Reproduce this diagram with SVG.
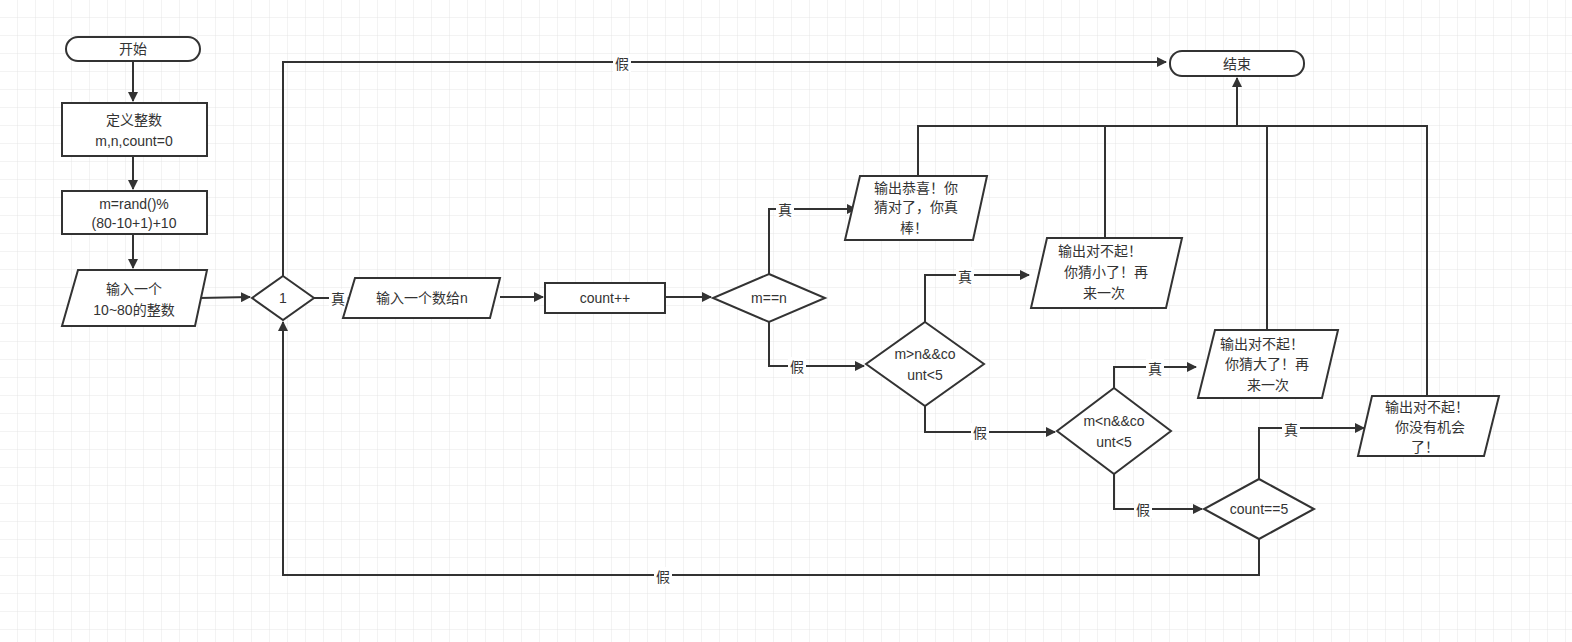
<svg xmlns="http://www.w3.org/2000/svg" width="1572" height="642" viewBox="0 0 1572 642">
<defs>
<pattern id="g" width="18" height="18" patternUnits="userSpaceOnUse"><path d="M18 0V18H0" fill="none" stroke="#e6e6e6" stroke-width="1"/></pattern>
<marker id="a" viewBox="0 0 10 10" refX="9" refY="5" markerWidth="5" markerHeight="5" orient="auto"><path d="M0 0L10 5L0 10z" fill="#333"/></marker>
<style>
.s{fill:#fff;stroke:#333;stroke-width:2}
.c{fill:none;stroke:#333;stroke-width:2;marker-end:url(#a)}
.l{fill:none;stroke:#333;stroke-width:2}
text{font-family:"Liberation Sans","Noto Sans CJK SC",sans-serif;font-size:14px;fill:#333;text-anchor:middle}
.lb{fill:#fff;stroke:none}
</style>
</defs>
<rect width="1572" height="642" fill="#fff"/>
<rect width="1572" height="642" fill="url(#g)"/>
<g id="connectors">
<path class="c" d="M133 61V101"/>
<path class="c" d="M133 156V189"/>
<path class="c" d="M133 234V268"/>
<path class="c" d="M199 298L250 297"/>
<path class="c" d="M314 298H347"/>
<path class="c" d="M500 297H543"/>
<path class="c" d="M665 297H711"/>
<path class="c" d="M769 274V209H856"/>
<path class="c" d="M769 322V366H864"/>
<path class="c" d="M925 322V275H1029"/>
<path class="c" d="M925 406V432H1055"/>
<path class="c" d="M1114 388V367H1196"/>
<path class="c" d="M1114 474V509H1202"/>
<path class="c" d="M1259 479V428H1364"/>
<path class="c" d="M1259 539V575H283V322"/>
<path class="c" d="M283 276V62H1166"/>
<path class="l" d="M918 176V126H1427V396M1105 238V126M1267 330V126"/>
<path class="c" d="M1237 126V78"/>
<g>
<rect class="lb" x="329" y="289" width="18" height="18"/><text x="338" y="304">真</text>
<rect class="lb" x="776" y="200" width="18" height="18"/><text x="785" y="215">真</text>
<rect class="lb" x="788" y="357" width="18" height="18"/><text x="797" y="372">假</text>
<rect class="lb" x="956" y="267" width="18" height="18"/><text x="965" y="282">真</text>
<rect class="lb" x="971" y="423" width="18" height="18"/><text x="980" y="438">假</text>
<rect class="lb" x="1146" y="359" width="18" height="18"/><text x="1155" y="374">真</text>
<rect class="lb" x="1134" y="500" width="18" height="18"/><text x="1143" y="515">假</text>
<rect class="lb" x="1282" y="420" width="18" height="18"/><text x="1291" y="435">真</text>
<rect class="lb" x="654" y="567" width="18" height="18"/><text x="663" y="582">假</text>
<rect class="lb" x="613" y="54" width="18" height="18"/><text x="622" y="69">假</text>
</g>
</g>
<g id="start"><rect class="s" x="66" y="37" width="134" height="24" rx="12"/><text x="133" y="54">开始</text></g>
<g id="def"><rect class="s" x="62" y="103" width="145" height="53"/><text x="134" y="125">定义整数</text><text x="134" y="146">m,n,count=0</text></g>
<g id="rand"><rect class="s" x="62" y="191" width="145" height="43"/><text x="134" y="209">m=rand()%</text><text x="134" y="228">(80-10+1)+10</text></g>
<g id="input1"><polygon class="s" points="78,270 207,270 195,326 62,326"/><text x="134" y="294">输入一个</text><text x="134" y="315">10~80的整数</text></g>
<g id="d1"><polygon class="s" points="283,276 314,298 283,320 252,298"/><text x="283" y="303">1</text></g>
<g id="input2"><polygon class="s" points="355,278 500,278 490,318 343,318"/><text x="422" y="303">输入一个数给n</text></g>
<g id="inc"><rect class="s" x="545" y="283" width="120" height="30"/><text x="605" y="303">count++</text></g>
<g id="d2"><polygon class="s" points="769,274 825,298 769,322 713,298"/><text x="769" y="303">m==n</text></g>
<g id="o1"><polygon class="s" points="860,176 987,176 973,240 845,240"/><text x="916" y="193">输出恭喜！你</text><text x="916" y="212">猜对了，你真</text><text x="914" y="233">棒！</text></g>
<g id="d3"><polygon class="s" points="925,322 984,364 925,406 866,364"/><text x="925" y="359">m&gt;n&amp;&amp;co</text><text x="925" y="380">unt&lt;5</text></g>
<g id="o2"><polygon class="s" points="1047,238 1182,238 1166,308 1031,308"/><text x="1100" y="256">输出对不起！</text><text x="1106" y="277">你猜小了！再</text><text x="1104" y="298">来一次</text></g>
<g id="d4"><polygon class="s" points="1114,388 1171,431 1114,474 1057,431"/><text x="1114" y="426">m&lt;n&amp;&amp;co</text><text x="1114" y="447">unt&lt;5</text></g>
<g id="o3"><polygon class="s" points="1215,330 1338,330 1322,398 1198,398"/><text x="1262" y="349">输出对不起！</text><text x="1267" y="369">你猜大了！再</text><text x="1268" y="390">来一次</text></g>
<g id="d5"><polygon class="s" points="1259,479 1314,509 1259,539 1204,509"/><text x="1259" y="514">count==5</text></g>
<g id="o4"><polygon class="s" points="1372,396 1499,396 1484,456 1358,456"/><text x="1427" y="412">输出对不起！</text><text x="1430" y="432">你没有机会</text><text x="1425" y="452">了！</text></g>
<g id="end"><rect class="s" x="1170" y="51" width="134" height="25" rx="12"/><text x="1237" y="69">结束</text></g>
</svg>
